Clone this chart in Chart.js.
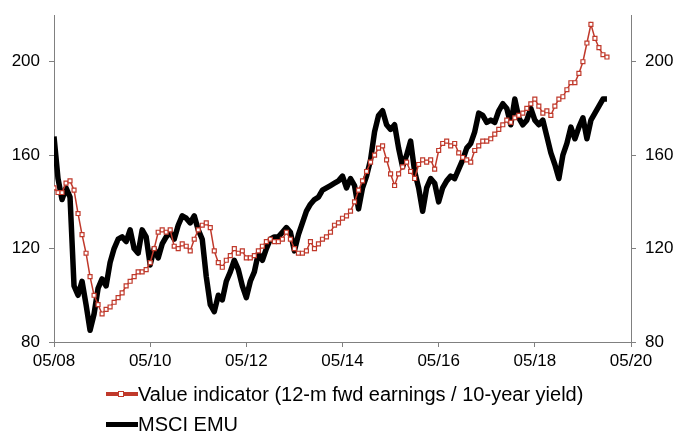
<!DOCTYPE html>
<html>
<head>
<meta charset="utf-8">
<script src="https://cdn.jsdelivr.net/npm/chart.js@4.4.1/dist/chart.umd.min.js"></script>
<style>
html,body{margin:0;padding:0;background:#fff;}
#wrap{position:relative;width:689px;height:435px;}
#c{position:absolute;left:0;top:0;}
.leg{position:absolute;left:106px;height:24px;font-family:"Liberation Sans",Arial,sans-serif;font-size:20px;color:#000;white-space:nowrap;display:flex;align-items:center;}
.sw{position:relative;width:32px;height:14px;margin-right:0px;}
.sw .ln{position:absolute;left:0;right:0;top:50%;}
.sw .mk{position:absolute;left:12px;top:4px;width:4px;height:4px;border:1px solid #C0392B;background:#fff;}
</style>
</head>
<body>
<div id="wrap">
<canvas id="c" width="689" height="435"></canvas>
<div class="leg" id="leg1" style="top:382px;"><span class="sw"><span class="ln" style="height:4px;margin-top:-2px;background:#C0392B;"></span><span class="mk"></span></span><span>Value indicator (12-m fwd earnings / 10-year yield)</span></div>
<div class="leg" id="leg2" style="top:412px;"><span class="sw"><span class="ln" style="height:5px;margin-top:-2px;background:#000;"></span></span><span>MSCI EMU</span></div>
</div>
<script>
// x values are months since May 2008
const xTickValues = [0, 24, 48, 72, 96, 120, 144];
const xTickLabels = ["05/08", "05/10", "05/12", "05/14", "05/16", "05/18", "05/20"];
const yTickValues = [80, 120, 160, 200];

const msciEmu = [168,150,141,146,142,104,100,106,96,85,92,103,107,104,114,120,124,125,123,128,
120,118,128,125,113,120,116,122,125,127,124,130,134,133,131,134,128,124,108,96,
93,100,98,106,110,115,111,104,99,106,110,118,115,120,124,125,125,127,129,127,
119,126,131,136,139,141,142,145,146,147,148,149,151,146,150,147,137,146,151,158,
170,177,179,173,171,173,163,155,160,166,153,146,136,146,150,148,140,146,149,151,
150,154,158,163,165,170,178,177,174,175,174,179,182,180,173,184,176,173,175,180,
175,173,175,168,161,156,150,160,165,172,167,172,176,167,175,178,181,184,184];

const valueIndicator = [146,144,144,148,149,145,135,126,118,108,100,96,92,94,95,97,99,101,104,106,
108,110,110,111,114,120,127,128,127,128,121,120,122,121,119,124,128,130,131,129,
119,114,112,115,117,120,118,119,116,116,117,119,121,123,124,123,123,124,127,124,
120,118,118,119,123,120,122,124,125,127,130,131,133,134,136,140,145,149,153,157,
160,163,164,158,152,147,152,155,157,153,150,156,158,157,158,154,162,165,166,164,
165,161,159,158,157,162,164,166,166,167,169,171,173,175,174,176,177,178,180,182,
184,181,178,179,177,181,184,185,188,191,191,195,200,208,216,210,206,203,202];

const toXY = arr => arr.map((v, i) => ({x: i, y: v}));
const axisGray = '#808080';
const tickFont = {family: "'Liberation Sans', Arial, sans-serif", size: 17};

new Chart(document.getElementById('c'), {
  type: 'line',
  data: {
    datasets: [
      {
        label: 'Value indicator (12-m fwd earnings / 10-year yield)',
        data: toXY(valueIndicator),
        borderColor: '#C0392B',
        borderWidth: 1.5,
        pointStyle: 'rect',
        pointRadius: 2.8,
        pointBackgroundColor: '#fff',
        pointBorderColor: '#C0392B',
        pointBorderWidth: 1.2,
        tension: 0,
        order: 1
      },
      {
        label: 'MSCI EMU',
        data: toXY(msciEmu),
        borderColor: '#000',
        borderWidth: 5.5,
        pointRadius: 0,
        tension: 0,
        borderJoinStyle: 'round',
        order: 2
      }
    ]
  },
  options: {
    responsive: false,
    animation: false,
    layout: {padding: {left: 0, right: 0, top: 15, bottom: 63}},
    plugins: {legend: {display: false}, tooltip: {enabled: false}},
    scales: {
      x: {
        type: 'linear', min: 0, max: 144,
        afterBuildTicks: s => { s.ticks = xTickValues.map(v => ({value: v})); },
        afterFit: s => { s.height = 30; s.paddingLeft = 0; s.paddingRight = 0; },
        ticks: {color: '#000', font: tickFont, padding: 4, maxRotation: 0,
          callback: (v) => { const i = xTickValues.indexOf(v); return i >= 0 ? xTickLabels[i] : ''; }},
        grid: {drawOnChartArea: false, drawTicks: true, tickLength: 5, tickColor: axisGray},
        border: {display: true, color: axisGray, width: 1}
      },
      y: {
        type: 'linear', position: 'left', min: 80, max: 220,
        afterBuildTicks: s => { s.ticks = yTickValues.map(v => ({value: v})); },
        afterFit: s => { s.width = 54; s.paddingTop = 0; s.paddingBottom = 0; },
        ticks: {color: '#000', font: tickFont, padding: 9},
        grid: {drawOnChartArea: false, drawTicks: true, tickLength: 5, tickColor: axisGray},
        border: {display: true, color: axisGray, width: 1}
      },
      y2: {
        type: 'linear', position: 'right', min: 80, max: 220,
        afterBuildTicks: s => { s.ticks = yTickValues.map(v => ({value: v})); },
        afterFit: s => { s.width = 58; s.paddingTop = 0; s.paddingBottom = 0; },
        ticks: {color: '#000', font: tickFont, padding: 9},
        grid: {drawOnChartArea: false, drawTicks: true, tickLength: 5, tickColor: axisGray},
        border: {display: true, color: axisGray, width: 1}
      }
    }
  }
});
</script>
</body>
</html>
